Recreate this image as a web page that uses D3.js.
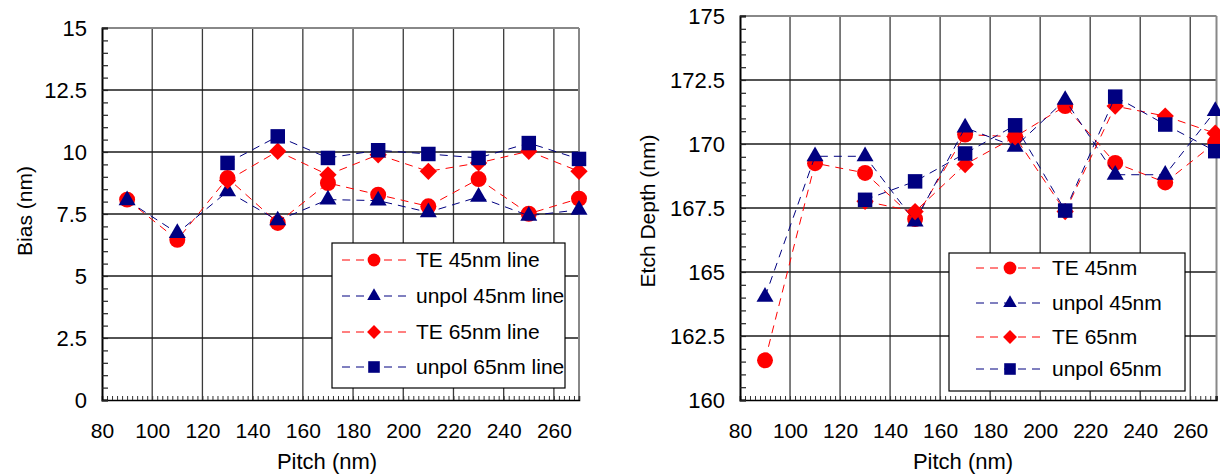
<!DOCTYPE html>
<html><head><meta charset="utf-8">
<script src="https://cdn.jsdelivr.net/npm/d3@7"></script>
<style>
body{margin:0;background:#fff}
svg{display:block}
text{font-family:"Liberation Sans",Arial,sans-serif;fill:#000}
</style>
</head><body>
<svg id="c" width="1220" height="475"></svg>
<script>
// ---------- data ----------
const pitch45 = [90,110,130,150,170,190,210,230,250,270];
const pitch65 = [130,150,170,190,210,230,250,270];

const biasTE45    = [8.08,6.46,8.95,7.14,8.75,8.28,7.81,8.91,7.51,8.12];
const biasUnpol45 = [8.05,6.73,8.41,7.24,8.08,8.04,7.57,8.19,7.43,7.67];
const biasTE65    = [8.85,10.03,9.08,9.89,9.22,9.56,10.03,9.22];
const biasUnpol65 = [9.56,10.63,9.76,10.07,9.92,9.76,10.36,9.72];

const depthTE45    = [161.55,169.25,168.87,167.07,170.37,170.28,171.48,169.26,168.5,170.05];
const depthUnpol45 = [164.03,169.52,169.52,166.97,170.64,169.89,171.72,168.8,168.8,171.29];
const depthTE65    = [167.76,167.36,169.2,170.28,167.36,171.48,171.09,170.42];
const depthUnpol65 = [167.82,168.54,169.63,170.73,167.4,171.85,170.76,169.72];

const xTicks = [80,100,120,140,160,180,200,220,240,260];
const biasTicks = [0,2.5,5,7.5,10,12.5,15];
const depthTicks = [160,162.5,165,167.5,170,172.5,175];

const namesBias = ["TE 45nm line","unpol 45nm line","TE 65nm line","unpol 65nm line"];
const namesDepth = ["TE 45nm","unpol 45nm","TE 65nm","unpol 65nm"];

// ---------- styles ----------
const RED = "#ff0000", NAVY = "#000080";
const FS = 21;
const styles = [
  {color:RED,  shape:"circle"},
  {color:NAVY, shape:"triangle"},
  {color:RED,  shape:"diamond"},
  {color:NAVY, shape:"square"}
];

const svg = d3.select("#c");

function marker(g, shape, color, cx, cy, scale){
  let sym, size, rot = 0;
  if(shape==="circle"){sym=d3.symbolCircle; size=200;}
  else if(shape==="triangle"){sym=d3.symbolTriangle; size=125;}
  else if(shape==="square"){sym=d3.symbolSquare; size=210;}
  else {sym=d3.symbolSquare; size=150; rot=45;}
  g.append("path")
    .attr("d", d3.symbol().type(sym).size(size*scale*scale)())
    .attr("transform", `translate(${cx},${cy}) rotate(${rot})`)
    .attr("fill", color);
}

function drawChart(cfg){
  const g = svg.append("g");
  const x = d3.scaleLinear().domain(cfg.xDomain).range([cfg.left, cfg.right]);
  const y = d3.scaleLinear().domain(cfg.yDomain).range([cfg.bottom, cfg.top]);

  // gridlines
  const grid = g.append("g");
  xTicks.filter(t=>t>cfg.xDomain[0]).forEach(t=>{
    grid.append("line").attr("x1",x(t)).attr("x2",x(t)).attr("y1",cfg.top).attr("y2",cfg.bottom)
      .attr("stroke","#3a3a3a").attr("stroke-width",1.3);
  });
  cfg.yTicks.filter(t=>t>cfg.yDomain[0] && t<cfg.yDomain[1]).forEach(t=>{
    grid.append("line").attr("x1",cfg.left).attr("x2",cfg.right).attr("y1",y(t)).attr("y2",y(t))
      .attr("stroke","#1a1a1a").attr("stroke-width",1.3);
  });
  // top & right frame
  g.append("line").attr("x1",cfg.left).attr("x2",cfg.right).attr("y1",cfg.top).attr("y2",cfg.top)
    .attr("stroke","#888").attr("stroke-width",2);
  g.append("line").attr("x1",cfg.right).attr("x2",cfg.right).attr("y1",cfg.top).attr("y2",cfg.bottom)
    .attr("stroke","#888").attr("stroke-width",2);

  // axes with inside ticks
  const minorX = d3.range(cfg.xDomain[0], cfg.xDomain[1]+0.001, 2);
  const xAxisMinor = d3.axisTop(x).tickValues(minorX).tickSize(4).tickFormat("");
  g.append("g").attr("transform",`translate(0,${cfg.bottom})`).call(xAxisMinor)
    .call(s=>s.select(".domain").attr("stroke","#000").attr("stroke-width",1.5))
    .call(s=>s.selectAll(".tick line").attr("stroke","#333"));
  const xAxis = d3.axisBottom(x).tickValues(xTicks).tickSize(0).tickPadding(23).tickFormat(d3.format("d"));
  g.append("g").attr("transform",`translate(0,${cfg.bottom})`).call(xAxis)
    .call(s=>s.select(".domain").remove())
    .call(s=>s.selectAll("text").attr("font-size",FS).attr("font-family","Liberation Sans, Arial, sans-serif"));

  const minorY = d3.range(cfg.yDomain[0], cfg.yDomain[1]+0.001, 0.5);
  const yAxisMinor = d3.axisRight(y).tickValues(minorY).tickSize(6).tickFormat("");
  g.append("g").attr("transform",`translate(${cfg.left},0)`).call(yAxisMinor)
    .call(s=>s.select(".domain").attr("stroke","#000").attr("stroke-width",2))
    .call(s=>s.selectAll(".tick line").attr("stroke","#222").attr("stroke-width",1.2));
  const yAxis = d3.axisLeft(y).tickValues(cfg.yTicks).tickSize(0).tickPadding(15).tickFormat(d=>String(d));
  g.append("g").attr("transform",`translate(${cfg.left},0)`).call(yAxis)
    .call(s=>s.select(".domain").remove())
    .call(s=>s.selectAll("text").attr("font-size",FS+1).attr("font-family","Liberation Sans, Arial, sans-serif"));

  // axis titles
  g.append("text").attr("x",cfg.xTitleX).attr("y",469).attr("text-anchor","middle")
    .attr("font-size",FS+1).text("Pitch (nm)");
  g.append("text").attr("transform",`translate(${cfg.yTitleX},${cfg.yTitleY}) rotate(-90)`)
    .attr("text-anchor","middle").attr("dy","0.35em").attr("font-size",FS).text(cfg.yTitle);

  // series
  const line = d3.line().x(d=>x(d[0])).y(d=>y(d[1]));
  cfg.series.forEach((s,i)=>{
    const st = styles[i];
    const pts = s.xs.map((v,j)=>[v,s.ys[j]]);
    const sg = g.append("g");
    sg.append("path").attr("d",line(pts)).attr("fill","none").attr("stroke",st.color)
      .attr("stroke-width",1).attr("stroke-dasharray","8,6");
    pts.forEach(p=>marker(sg, st.shape, st.color, x(p[0]), y(p[1]), 1));
  });

  // legend
  const L = cfg.legend;
  const lg = g.append("g");
  lg.append("rect").attr("x",L.x0).attr("y",L.y0).attr("width",L.x1-L.x0).attr("height",L.y1-L.y0)
    .attr("fill","#fff").attr("stroke","#000").attr("stroke-width",1.2);
  cfg.names.forEach((n,i)=>{
    const st = styles[i];
    const ry = L.rows[i];
    lg.append("line").attr("x1",L.lx0).attr("x2",L.lx1).attr("y1",ry).attr("y2",ry)
      .attr("stroke",st.color).attr("stroke-width",1).attr("stroke-dasharray","8,6");
    marker(lg, st.shape, st.color, L.mx, ry, 0.8);
    lg.append("text").attr("x",L.tx).attr("y",ry).attr("dy","0.35em").attr("font-size",FS).text(n);
  });
}

drawChart({
  left:102, right:579, top:28, bottom:400,
  xDomain:[80,270], yDomain:[0,15], yTicks:biasTicks,
  yTitle:"Bias (nm)", yTitleX:25, yTitleY:211, xTitleX:327,
  names:namesBias,
  series:[
    {xs:pitch45, ys:biasTE45},
    {xs:pitch45, ys:biasUnpol45},
    {xs:pitch65, ys:biasTE65},
    {xs:pitch65, ys:biasUnpol65}
  ],
  legend:{x0:332,y0:243,x1:565,y1:388,rows:[260,296,332,367],lx0:342,lx1:411,mx:374,tx:416}
});

drawChart({
  left:740, right:1216.5, top:16, bottom:400,
  xDomain:[80,270.5], yDomain:[160,175], yTicks:depthTicks,
  yTitle:"Etch Depth (nm)", yTitleX:648, yTitleY:211, xTitleX:963,
  names:namesDepth,
  series:[
    {xs:pitch45, ys:depthTE45},
    {xs:pitch45, ys:depthUnpol45},
    {xs:pitch65, ys:depthTE65},
    {xs:pitch65, ys:depthUnpol65}
  ],
  legend:{x0:949,y0:253,x1:1185,y1:391,rows:[268,303,337,369],lx0:976,lx1:1045,mx:1010,tx:1052}
});
</script>
</body></html>
